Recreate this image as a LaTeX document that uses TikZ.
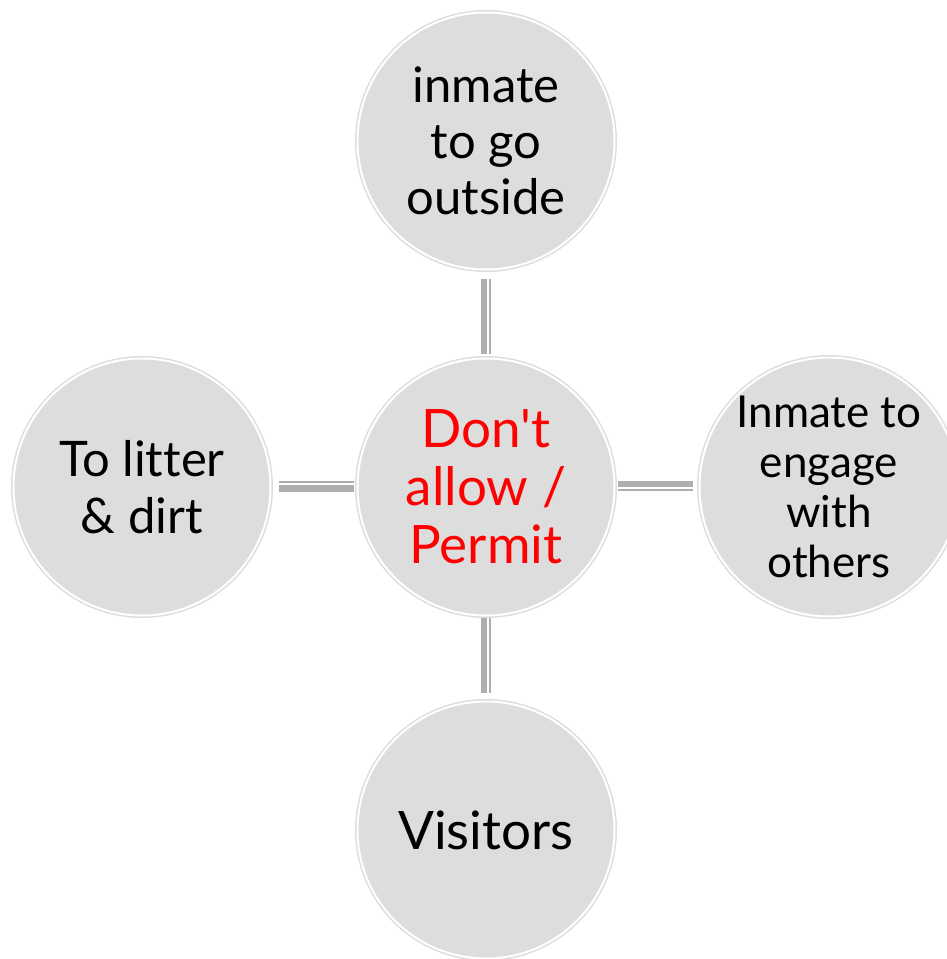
\documentclass[tikz,border=0pt]{standalone}
\usepackage{fontspec}
\setmainfont{Lato}[Ligatures={NoCommon}]
\definecolor{cfill}{HTML}{DDDDDD}
\definecolor{cline}{HTML}{AEAEAE}
\definecolor{cred}{HTML}{FF0000}
\tikzset{
  bubble/.style={circle, minimum size=257pt, inner sep=0pt, outer sep=0pt,
    fill=cfill, draw=cfill, line width=1.5pt, double=white, double distance=2pt,
    align=center, text=black},
  thickbar/.style={draw=cline, line width=6.5pt},
  thinbar/.style={draw=cline, line width=2.2pt},
}
\begin{document}
\begin{tikzpicture}[x=1pt,y=-1pt]
\useasboundingbox (0,0) rectangle (947,959);
\node[bubble, font=\fontsize{49}{56}\selectfont] (top) at (486,141) {inmate\\to go\\outside};
\node[bubble, font=\fontsize{53}{58}\selectfont, text=cred] (ctr) at (486,487) {Don\textquotesingle t\\allow /\\Permit};
\node[bubble, font=\fontsize{49}{57}\selectfont] (left) at (142,487) {To litter\\\& dirt};
\node[bubble, font=\fontsize{44}{50}\selectfont] (right) at (829,487) {Inmate to\\engage\\with\\others};
\node[bubble, font=\fontsize{53}{60}\selectfont] (bot) at (486,830) {Visitors};
% top connector
\draw[thickbar, shorten <=9.5pt, shorten >=4.5pt] ([xshift=-2pt]top.south) -- ([xshift=-2pt]ctr.north);
\draw[thinbar, shorten <=9.5pt, shorten >=4.5pt] ([xshift=4pt]top.south) -- ([xshift=4pt]ctr.north);
% left connector
\draw[thinbar, shorten <=8.5pt, shorten >=3.5pt] ([yshift=5pt]left.east) -- ([yshift=5pt]ctr.west);
\draw[thickbar, shorten <=8.5pt, shorten >=3.5pt] ([yshift=-1.5pt]left.east) -- ([yshift=-1.5pt]ctr.west);
% right connector
\draw[thickbar, shorten <=3.5pt, shorten >=6.5pt] ([yshift=3pt]ctr.east) -- ([yshift=3pt]right.west);
\draw[thinbar, shorten <=3.5pt, shorten >=6.5pt] ([yshift=-3pt]ctr.east) -- ([yshift=-3pt]right.west);
% bottom connector
\draw[thickbar, shorten <=2.5pt, shorten >=8.5pt] ([xshift=-2pt]ctr.south) -- ([xshift=-2pt]bot.north);
\draw[thinbar, shorten <=2.5pt, shorten >=8.5pt] ([xshift=4pt]ctr.south) -- ([xshift=4pt]bot.north);
\end{tikzpicture}
\end{document}
